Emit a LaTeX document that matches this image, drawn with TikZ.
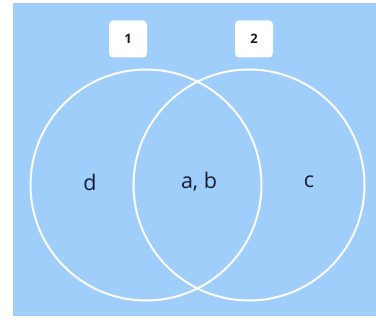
\documentclass[tikz,border=0pt]{standalone}
\usepackage{fontspec}
\setmainfont{Open Sans}
\definecolor{bgblue}{RGB}{159,206,250}
\definecolor{txt}{RGB}{22,28,45}
\begin{document}
\begin{tikzpicture}[x=1pt,y=-1pt,
  setcircle/.style={draw=white,line width=2pt,circle,minimum size=231pt,inner sep=0pt},
  tagbox/.style={fill=white,rounded corners=4pt,minimum width=38pt,minimum height=37pt,inner sep=0pt,font=\fontsize{13}{13}\selectfont\bfseries,text=txt},
  setlabel/.style={font=\fontsize{21.5}{21.5}\selectfont,text=txt}]
\useasboundingbox (0,0) rectangle (376,320);
\fill[white] (0,0) rectangle (376,320);
\fill[bgblue] (13,3) rectangle (376,316);
\node[setcircle] (c1) at (146,185) {};
\node[setcircle] (c2) at (249,185) {};
\node[tagbox] (t1) at (128,39) {1};
\node[tagbox] (t2) at (254,39) {2};
\node[setlabel] (d) at (90,182) {d};
\node[setlabel] (ab) at (199,182) {a, b};
\node[setlabel] (c) at (309,182) {c};
\end{tikzpicture}
\end{document}
